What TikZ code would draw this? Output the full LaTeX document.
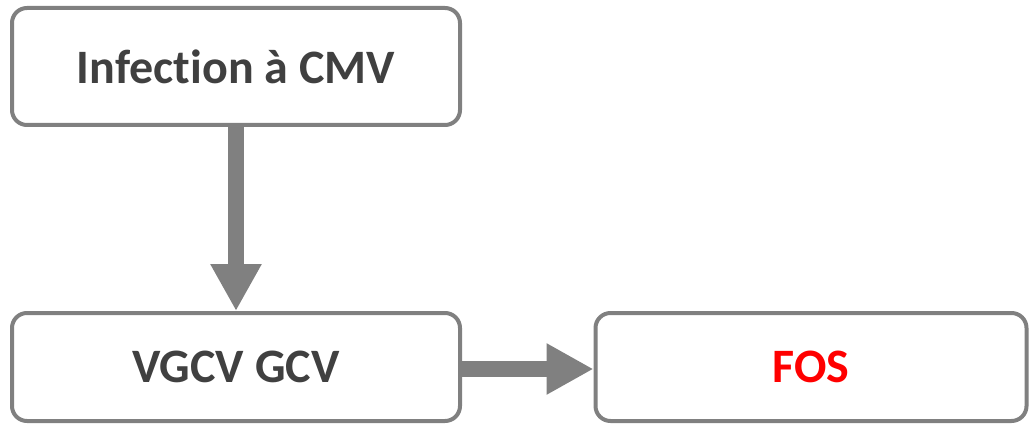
\documentclass[tikz,border=0pt]{standalone}
\usepackage{fontspec}
\setmainfont{Carlito}[Ligatures={NoCommon, NoRare}]
\usetikzlibrary{positioning, arrows.meta}
\definecolor{bcolor}{HTML}{808080}
\definecolor{tcolor}{HTML}{404040}
\definecolor{fcolor}{HTML}{FF0000}

\begin{document}
\begin{tikzpicture}[x=1pt, y=1pt,
    block/.style={rectangle, draw=bcolor, fill=white, rounded corners=15pt, line width=4pt, minimum width=448pt, minimum height=117pt, align=center, text=tcolor, font=\fontsize{48}{54}\selectfont\bfseries},
    arr/.style={-{Triangle[length=47pt, width=48pt]}, line width=16.5pt, draw=bcolor},
  ]
    \useasboundingbox (0,0) rectangle (1030,-425);

    \node[block] (cmv) at (236,-66.5) {Infection à CMV};
    \node[block, minimum height=108pt, below=184pt of cmv] (gcv) {VGCV GCV};
    \node[block, minimum height=108pt, minimum width=431pt, right=131.5pt of gcv, text=fcolor] (fos) {FOS};

    \draw[arr] (cmv.south) -- (gcv.north);
    \draw[arr] ([yshift=-2pt]gcv.east) -- ([yshift=-2pt]fos.west);
  \end{tikzpicture}
\end{document}
